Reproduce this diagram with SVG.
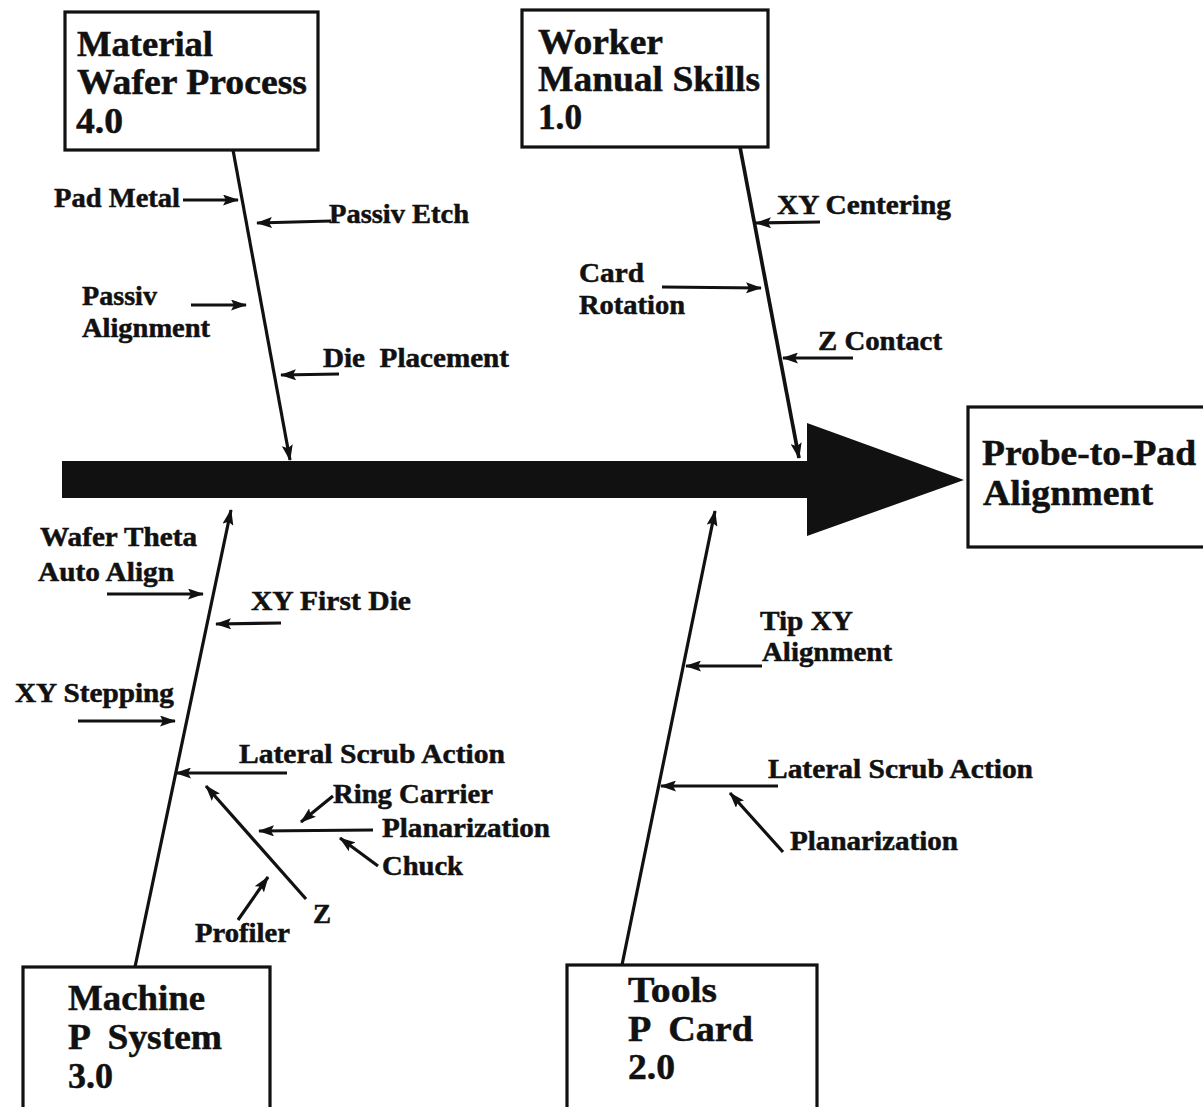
<svg xmlns="http://www.w3.org/2000/svg" width="1203" height="1107" viewBox="0 0 1203 1107">
<style>
  text { font-family: "Liberation Serif", "Times New Roman", serif; font-weight: bold; fill: #111; stroke: #111; stroke-width: 0.5; white-space: pre; }
  .hd { font-size: 36px; }
  .lb { font-size: 27px; }
  .box { fill: #fff; stroke: #111; stroke-width: 3.2; }
  .bone { stroke: #111; stroke-width: 3.2; fill: none; }
  .sub { stroke: #111; stroke-width: 3.2; fill: none; }
</style>
<defs>
  <marker id="ah" viewBox="0 0 16 11" refX="15" refY="5.5" markerWidth="16" markerHeight="11" markerUnits="userSpaceOnUse" orient="auto">
    <path d="M0,0 L16,5.5 L0,11 L3,5.5 z" fill="#111"/>
  </marker>
</defs>
<rect width="1203" height="1107" fill="#fff"/>

<g id="spine">
  <rect x="62" y="461" width="747" height="37" fill="#111"/>
  <polygon points="807,423 964,480 807,536" fill="#111"/>
</g>

<g id="connectors">
  <line class="bone" x1="233" y1="150" x2="290" y2="460" marker-end="url(#ah)"/>
  <line class="bone" x1="740" y1="147" x2="799" y2="458" style="stroke-width:3.7" marker-end="url(#ah)"/>
  <line class="bone" x1="135" y1="967" x2="231" y2="510" marker-end="url(#ah)"/>
  <line class="bone" x1="622" y1="965" x2="715" y2="511" marker-end="url(#ah)"/>

  <line class="sub" x1="183" y1="200" x2="238" y2="200" marker-end="url(#ah)"/>
  <line class="sub" x1="331" y1="221" x2="257" y2="223" marker-end="url(#ah)"/>
  <line class="sub" x1="191" y1="305" x2="246" y2="305" marker-end="url(#ah)"/>
  <line class="sub" x1="339" y1="374" x2="281" y2="375" marker-end="url(#ah)"/>

  <line class="sub" x1="820" y1="222" x2="756" y2="223" marker-end="url(#ah)"/>
  <line class="sub" x1="662" y1="287" x2="761" y2="288" marker-end="url(#ah)"/>
  <line class="sub" x1="853" y1="358" x2="783" y2="358" marker-end="url(#ah)"/>

  <line class="sub" x1="107" y1="594" x2="203" y2="594" marker-end="url(#ah)"/>
  <line class="sub" x1="281" y1="623" x2="216" y2="624" marker-end="url(#ah)"/>
  <line class="sub" x1="78" y1="721" x2="175" y2="721" marker-end="url(#ah)"/>
  <line class="sub" x1="287" y1="773" x2="176" y2="773" marker-end="url(#ah)"/>
  <line class="sub" x1="306" y1="899" x2="206" y2="786" marker-end="url(#ah)"/>
  <line class="sub" x1="333" y1="796" x2="301" y2="822" marker-end="url(#ah)"/>
  <line class="sub" x1="373" y1="830" x2="259" y2="831" marker-end="url(#ah)"/>
  <line class="sub" x1="378" y1="866" x2="340" y2="838" marker-end="url(#ah)"/>
  <line class="sub" x1="238" y1="920" x2="268" y2="877" marker-end="url(#ah)"/>

  <line class="sub" x1="762" y1="666" x2="686" y2="666" marker-end="url(#ah)"/>
  <line class="sub" x1="778" y1="786" x2="661" y2="786" marker-end="url(#ah)"/>
  <line class="sub" x1="783" y1="852" x2="730" y2="793" marker-end="url(#ah)"/>
</g>

<g id="node-material">
  <rect class="box" x="65" y="12" width="253" height="138"/>
  <text class="hd" x="77" y="56" textLength="136" lengthAdjust="spacingAndGlyphs">Material</text>
  <text class="hd" x="77" y="94" textLength="230" lengthAdjust="spacingAndGlyphs">Wafer Process</text>
  <text class="hd" x="76" y="133" textLength="47" lengthAdjust="spacingAndGlyphs">4.0</text>
</g>

<g id="node-worker">
  <rect class="box" x="522" y="10" width="246" height="137"/>
  <text class="hd" x="538" y="54" textLength="125" lengthAdjust="spacingAndGlyphs">Worker</text>
  <text class="hd" x="538" y="91" textLength="222" lengthAdjust="spacingAndGlyphs">Manual Skills</text>
  <text class="hd" x="538" y="129" textLength="44" lengthAdjust="spacingAndGlyphs">1.0</text>
</g>

<g id="node-probe">
  <rect class="box" x="968" y="407" width="240" height="140"/>
  <text class="hd" x="982" y="465" textLength="214" lengthAdjust="spacingAndGlyphs">Probe-to-Pad</text>
  <text class="hd" x="983" y="505" textLength="170" lengthAdjust="spacingAndGlyphs">Alignment</text>
</g>

<g id="node-machine">
  <rect class="box" x="23" y="967" width="247" height="145"/>
  <text class="hd" x="68" y="1010" textLength="137" lengthAdjust="spacingAndGlyphs">Machine</text>
  <text class="hd" x="68" y="1049" textLength="154" lengthAdjust="spacingAndGlyphs">P  System</text>
  <text class="hd" x="68" y="1088" textLength="45" lengthAdjust="spacingAndGlyphs">3.0</text>
</g>

<g id="node-tools">
  <rect class="box" x="567" y="965" width="250" height="147"/>
  <text class="hd" x="628" y="1002" textLength="89" lengthAdjust="spacingAndGlyphs">Tools</text>
  <text class="hd" x="628" y="1041" textLength="125" lengthAdjust="spacingAndGlyphs">P  Card</text>
  <text class="hd" x="628" y="1079" textLength="47" lengthAdjust="spacingAndGlyphs">2.0</text>
</g>

<g id="labels">
  <text class="lb" x="54" y="207" textLength="126" lengthAdjust="spacingAndGlyphs">Pad Metal</text>
  <text class="lb" x="329" y="223" textLength="140" lengthAdjust="spacingAndGlyphs">Passiv Etch</text>
  <text class="lb" x="82" y="305" textLength="75" lengthAdjust="spacingAndGlyphs">Passiv</text>
  <text class="lb" x="82" y="337" textLength="128" lengthAdjust="spacingAndGlyphs">Alignment</text>
  <text class="lb" x="323" y="367" textLength="186" lengthAdjust="spacingAndGlyphs">Die  Placement</text>

  <text class="lb" x="777" y="214" textLength="174" lengthAdjust="spacingAndGlyphs">XY Centering</text>
  <text class="lb" x="579" y="282" textLength="65" lengthAdjust="spacingAndGlyphs">Card</text>
  <text class="lb" x="579" y="314" textLength="106" lengthAdjust="spacingAndGlyphs">Rotation</text>
  <text class="lb" x="818" y="350" textLength="124" lengthAdjust="spacingAndGlyphs">Z Contact</text>

  <text class="lb" x="40" y="546" textLength="157" lengthAdjust="spacingAndGlyphs">Wafer Theta</text>
  <text class="lb" x="38" y="581" textLength="136" lengthAdjust="spacingAndGlyphs">Auto Align</text>
  <text class="lb" x="251" y="610" textLength="160" lengthAdjust="spacingAndGlyphs">XY First Die</text>
  <text class="lb" x="15" y="702" textLength="159" lengthAdjust="spacingAndGlyphs">XY Stepping</text>
  <text class="lb" x="239" y="763" textLength="266" lengthAdjust="spacingAndGlyphs">Lateral Scrub Action</text>
  <text class="lb" x="333" y="803" textLength="160" lengthAdjust="spacingAndGlyphs">Ring Carrier</text>
  <text class="lb" x="382" y="837" textLength="168" lengthAdjust="spacingAndGlyphs">Planarization</text>
  <text class="lb" x="382" y="875" textLength="81" lengthAdjust="spacingAndGlyphs">Chuck</text>
  <text class="lb" x="313" y="923">Z</text>
  <text class="lb" x="195" y="942" textLength="95" lengthAdjust="spacingAndGlyphs">Profiler</text>

  <text class="lb" x="760" y="630" textLength="93" lengthAdjust="spacingAndGlyphs">Tip XY</text>
  <text class="lb" x="762" y="661" textLength="130" lengthAdjust="spacingAndGlyphs">Alignment</text>
  <text class="lb" x="768" y="778" textLength="265" lengthAdjust="spacingAndGlyphs">Lateral Scrub Action</text>
  <text class="lb" x="790" y="850" textLength="168" lengthAdjust="spacingAndGlyphs">Planarization</text>
</g>
</svg>
